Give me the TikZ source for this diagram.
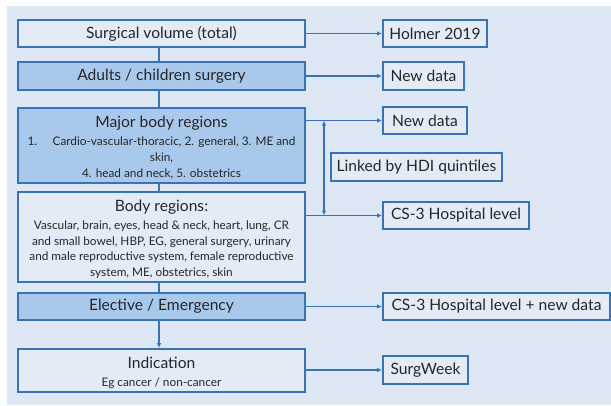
\documentclass[tikz,border=0pt]{standalone}
\usepackage{fontspec}
\setmainfont{Lato}
\usetikzlibrary{arrows.meta}
\definecolor{bord}{HTML}{3A72B8}
\definecolor{bgc}{HTML}{DEE8F4}
\definecolor{lightbox}{HTML}{E2EBF6}
\definecolor{bluebox}{HTML}{A9C9EC}
\newcommand{\smalltxt}{\fontsize{11.8}{15.6}\selectfont}
\newcommand{\bigtxt}{\fontsize{15.6}{18}\selectfont}
\newcommand{\lowered}[1]{\raisebox{0pt}[\dimexpr\height+7pt\relax][\depth]{#1}}
\begin{document}
\begin{tikzpicture}[x=1pt,y=-1pt,
  box/.style={draw=bord, line width=1.8pt, inner sep=0pt, align=center, text=black!85, font=\bigtxt},
  wbox/.style={box, fill=lightbox},
  bbox/.style={box, fill=bluebox},
  conn/.style={draw=bord, line width=1.4pt},
  arr/.style={conn, -{Latex[length=5pt,width=4.5pt]}}
]
\useasboundingbox (0,0) rectangle (611,405);
\fill[bgc] (7,6) rectangle (611,405);

% left column
\node[wbox, minimum width=287pt, minimum height=27pt] (sv) at (161.5,33.5) {Surgical volume (total)};
\node[bbox, minimum width=287pt, minimum height=28pt] (ac) at (161.5,76) {Adults / children surgery};
\node[bbox, minimum width=287pt, minimum height=75pt] (mbr) at (161.5,145.5) {\smalltxt\lowered{\begin{tabular}{@{}c@{}}
  \bigtxt Major body regions\\[2.5pt]
  \makebox[25pt][l]{1.}Cardio-vascular-thoracic, 2. general, 3. ME and\\
  skin,\\
  4. head and neck, 5. obstetrics\end{tabular}}};
\node[wbox, minimum width=287pt, minimum height=90pt] (br) at (161.5,237) {\smalltxt\lowered{\begin{tabular}{@{}c@{}}
  \bigtxt Body regions:\\[2.5pt]
  Vascular, brain, eyes, head \& neck, heart, lung, CR\\
  and small bowel, HBP, EG, general surgery, urinary\\
  and male reproductive system, female reproductive\\
  system, ME, obstetrics, skin\end{tabular}}};
\node[bbox, minimum width=287pt, minimum height=27pt] (ee) at (161.5,306.5) {Elective / Emergency};
\node[wbox, minimum width=287pt, minimum height=43pt] (ind) at (161.5,370.5) {\smalltxt\lowered{\begin{tabular}{@{}c@{}}
  \bigtxt Indication\\[2.5pt]
  Eg cancer / non-cancer\end{tabular}}};

% right column
\node[wbox, minimum width=104pt, minimum height=27pt] (holmer) at (435,33.5) {Holmer 2019};
\node[wbox, minimum width=81pt, minimum height=28pt] (nd1) at (423.5,76) {New data};
\node[wbox, minimum width=84pt, minimum height=27pt] (nd2) at (425,120.5) {New data};
\node[wbox, minimum width=171pt, minimum height=28pt] (hdi) at (416.5,167) {Linked by HDI quintiles};
\node[wbox, minimum width=146pt, minimum height=27pt] (cs3) at (456,215.5) {CS-3 Hospital level};
\node[wbox, minimum width=227pt, minimum height=27pt] (cs3n) at (496.5,306.5) {CS-3 Hospital level + new data};
\node[wbox, minimum width=85pt, minimum height=28pt] (sw) at (425.5,370) {SurgWeek};

% vertical connectors
\draw[conn] ([xshift=-2.5pt]sv.south) -- ([xshift=-2.5pt]ac.north);
\draw[conn] ([xshift=-2.5pt]ac.south) -- ([xshift=-2.5pt]mbr.north);
\draw[conn] ([xshift=-2.5pt]mbr.south) -- ([xshift=-2.5pt]br.north);
\draw[conn] ([xshift=-2.5pt]br.south) -- ([xshift=-2.5pt]ee.north);
\draw[arr] ([xshift=-2.5pt]ee.south) -- ([xshift=-2.5pt]ind.north);

% horizontal connectors
\draw[arr] (sv.east) -- (holmer.west);
\draw[arr] (ac.east) -- (nd1.west);
\draw[arr] (mbr.east |- nd2.west) -- (nd2.west);
\draw[arr] (br.east |- cs3.west) -- (cs3.west);
\draw[arr] (ee.east) -- (cs3n.west);
\draw[arr] (ind.east |- sw.west) -- (sw.west);

% linking double arrow
\coordinate (ja) at (324,120.5);
\coordinate (jb) at (324,215.5);
\draw[conn, {Latex[length=5pt,width=4.5pt]}-{Latex[length=5pt,width=4.5pt]}] (ja) -- (jb);
\end{tikzpicture}
\end{document}
